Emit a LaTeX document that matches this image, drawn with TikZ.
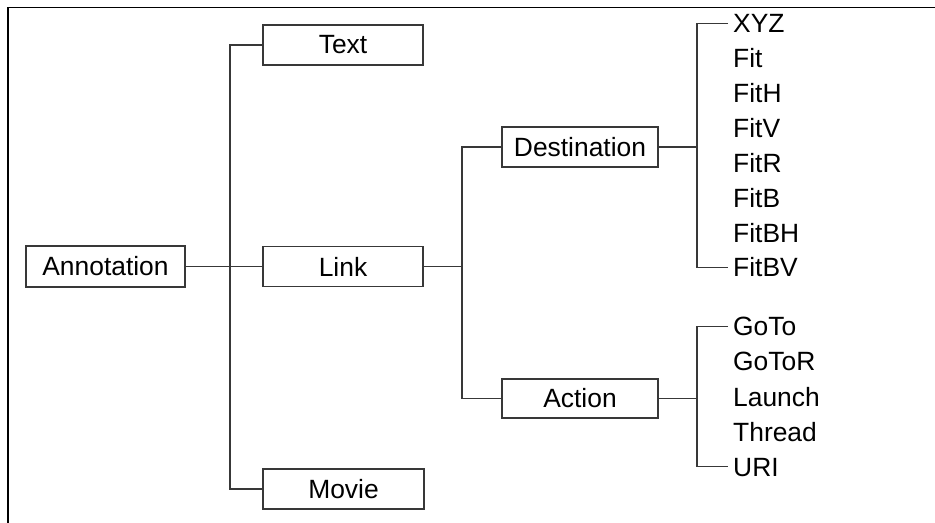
\documentclass[tikz,border=0pt]{standalone}
\usepackage{fontspec}
\setmainfont{Liberation Sans}
\begin{document}
\begin{tikzpicture}[x=1bp,y=-1bp,
  line/.style={draw=black!78, line width=1.6bp},
  box/.style={line, rectangle, inner sep=0pt, minimum height=40bp,
              font=\fontsize{26.5}{30}\selectfont},
  leaf/.style={anchor=base west, inner xsep=5bp, inner ysep=0pt,
               text height=19bp, text depth=0pt,
               font=\fontsize{26.5}{30}\selectfont}]
\useasboundingbox (0,0) rectangle (935,523);

% frame edges
\draw[line width=1.8bp] (8,523) -- (8,7.5) -- (935,7.5);

% boxes
\node[box, minimum width=159bp, minimum height=41bp] (ann) at (105.5,266.5) {Annotation};
\node[box, minimum width=160bp] (text)  at (343,45)    {Text};
\node[box, minimum width=160bp] (link)  at (343,266.5) {Link};
\node[box, minimum width=161bp] (movie) at (343.5,489) {Movie};
\node[box, minimum width=156bp] (dest)  at (580,147)   {Destination};
\node[box, minimum width=156bp, minimum height=39bp] (action) at (580,398.5) {Action};

% destination types
\node[leaf] (xyz)   at (728,33)     {XYZ};
\node[leaf] (fit)   at (728,67.9)   {Fit};
\node[leaf] (fith)  at (728,102.7)  {FitH};
\node[leaf] (fitv)  at (728,137.6)  {FitV};
\node[leaf] (fitr)  at (728,172.4)  {FitR};
\node[leaf] (fitb)  at (728,207.3)  {FitB};
\node[leaf] (fitbh) at (728,242.1)  {FitBH};
\node[leaf] (fitbv) at (728,277)    {FitBV};

% action types
\node[leaf] (goto)   at (728,336)  {GoTo};
\node[leaf] (gotor)  at (728,371)  {GoToR};
\node[leaf] (launch) at (728,406)  {Launch};
\node[leaf] (thread) at (728,441)  {Thread};
\node[leaf] (uri)    at (728,476)  {URI};

% junctions
\coordinate (j1) at (230,266.5);
\coordinate (j2) at (462,266.5);
\coordinate (j3) at (697,147);
\coordinate (j4) at (697,398.5);

% connectors
\draw[line] (ann.east) -- (link.west);
\draw[line] (text.west) -| (j1) |- (movie.west);
\draw[line] (link.east) -- (j2);
\draw[line] (dest.west) -| (j2) |- (action.west);
\draw[line] (dest.east) -- (j3);
\draw[line] (xyz.west) -| (j3) |- (fitbv.west);
\draw[line] (action.east) -- (j4);
\draw[line] (goto.west) -| (j4) |- (uri.west);
\end{tikzpicture}
\end{document}
